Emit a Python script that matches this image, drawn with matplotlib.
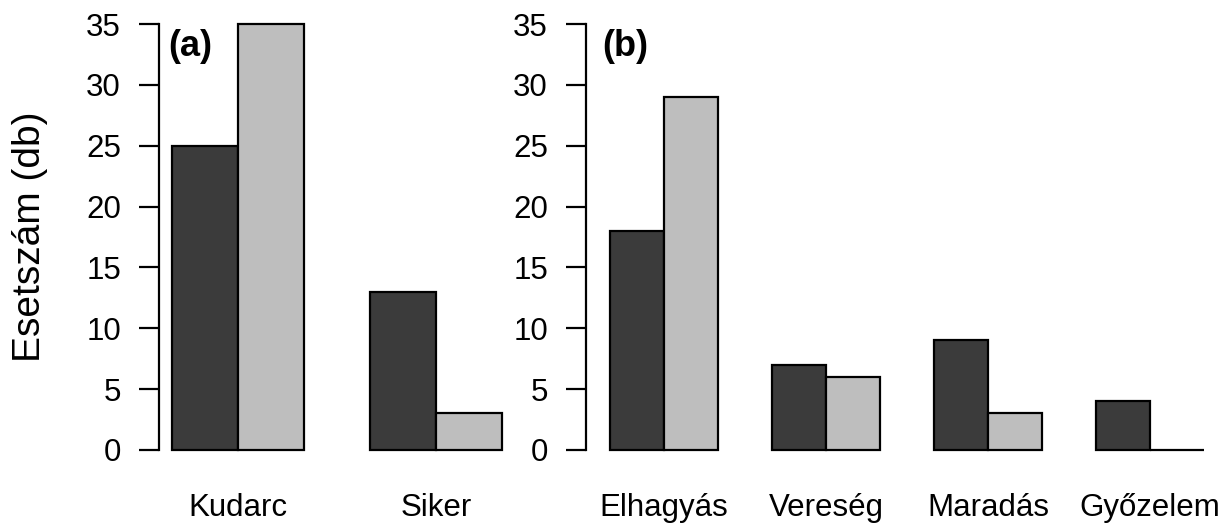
import matplotlib
matplotlib.use("Agg")
import matplotlib.pyplot as plt
import numpy as np

plt.rcParams['font.family'] = ['Liberation Sans', 'DejaVu Sans']

# panel (a)
cats_a = ["Kudarc", "Siker"]
dark_a = [25, 13]
light_a = [35, 3]

# panel (b)
cats_b = ["Elhagyás", "Vereség", "Maradás", "Győzelem"]
dark_b = [18, 7, 9, 4]
light_b = [29, 6, 3, 0]

yticks = [0, 5, 10, 15, 20, 25, 30, 35]
dark_col = "#3b3b3b"
light_col = "#bebebe"

W, H = 1228, 524
fig = plt.figure(figsize=(W / 100, H / 100), dpi=100)

def panel(rect, cats, dark, light, tag, ylabel=None):
    ax = fig.add_axes(rect)
    n = len(cats)
    # R style beside barplot: space 1 before each group of 2 unit-wide bars
    left = np.arange(n) * 3 + 1
    ax.bar(left, dark, width=1, align='edge', color=dark_col,
           edgecolor='black', linewidth=1.6)
    ax.bar(left + 1, light, width=1, align='edge', color=light_col,
           edgecolor='black', linewidth=1.6)
    lo, hi = 1, left[-1] + 2
    pad = 0.04 * (hi - lo)
    ax.set_xlim(lo - pad, hi + pad)
    ax.set_ylim(-0.04 * 35, 35 * 1.04)
    for s in ['top', 'right', 'bottom']:
        ax.spines[s].set_visible(False)
    ax.spines['left'].set_bounds(0, 35)
    ax.spines['left'].set_linewidth(1.6)
    ax.set_yticks(yticks)
    ax.tick_params(axis='y', length=14.4, width=1.6, pad=13, labelsize=22.5)
    ax.set_xticks(left + 1)
    ax.set_xticklabels(cats)
    ax.tick_params(axis='x', length=0, pad=18.5, labelsize=22.5)
    ax.text(0.025, 0.915, tag, transform=ax.transAxes, fontsize=26,
            fontweight='bold', va='center', ha='left')
    if ylabel:
        ax.set_ylabel(ylabel, fontsize=28)
        ax.yaxis.set_label_coords(-0.312, 0.5)
    return ax

bottom = 57 / H
height = 460 / H
panel([159 / W, bottom, 356 / W, height], cats_a, dark_a, light_a, "(a)",
      ylabel="Esetszám (db)")
panel([586 / W, bottom, 642 / W, height], cats_b, dark_b, light_b, "(b)")

fig.savefig("out.png", dpi=100)
